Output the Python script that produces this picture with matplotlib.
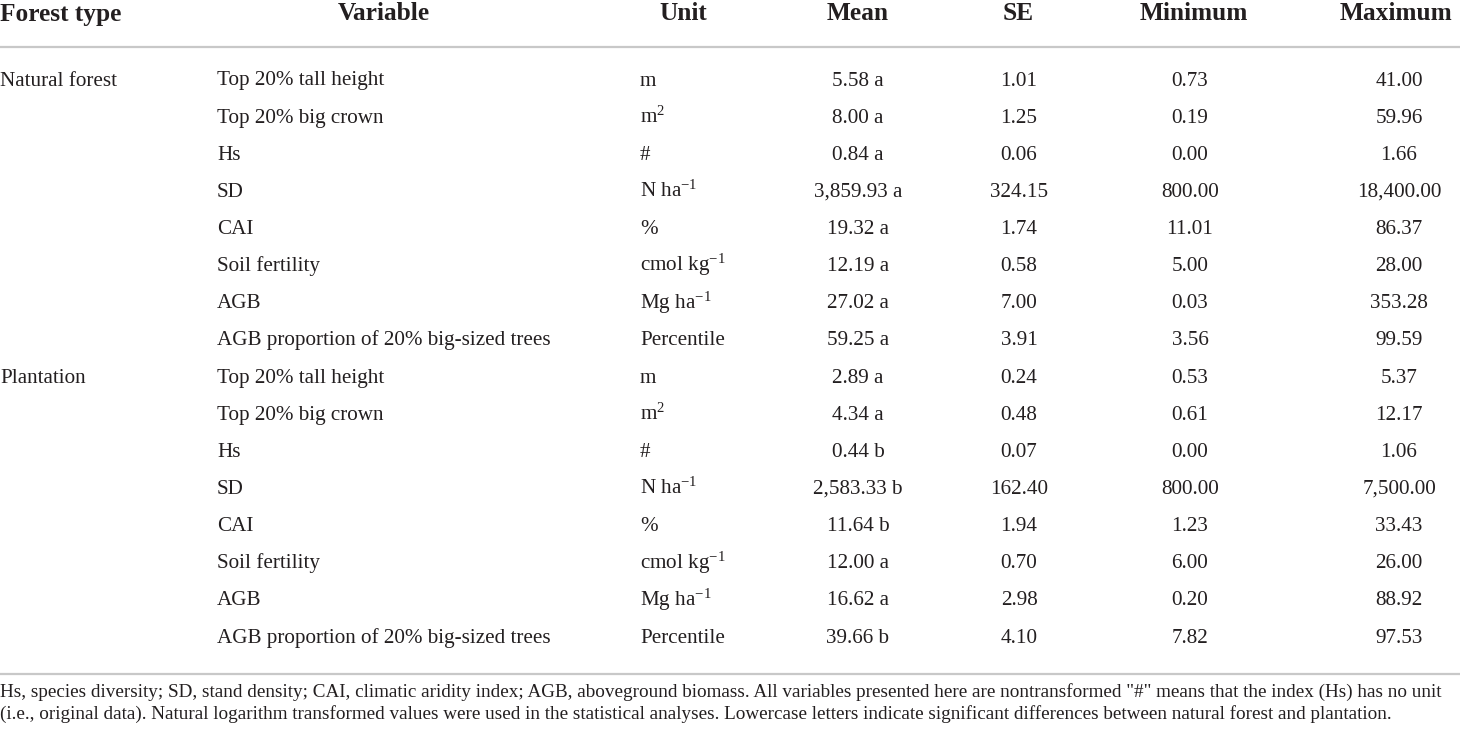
import matplotlib.pyplot as plt

plt.rcParams['font.family'] = ['Liberation Serif', 'DejaVu Serif']
plt.rcParams['mathtext.fontset'] = 'custom'
plt.rcParams['mathtext.rm'] = 'Liberation Serif'
plt.rcParams['mathtext.it'] = 'Liberation Serif:italic'

# table data
headers = ['Forest type', 'Variable', 'Unit', 'Mean', 'SE', 'Minimum', 'Maximum']
forest_types = ['Natural forest', 'Plantation']
variables = ['Top 20% tall height', 'Top 20% big crown', 'Hs', 'SD', 'CAI',
             'Soil fertility', 'AGB', 'AGB proportion of 20% big-sized trees']
units = ['m', 'm$^{2}$', '#', 'N ha$^{-1}$', '%', 'cmol kg$^{-1}$', 'Mg ha$^{-1}$', 'Percentile']

natural_mean = ['5.58 a', '8.00 a', '0.84 a', '3,859.93 a', '19.32 a', '12.19 a', '27.02 a', '59.25 a']
natural_se = ['1.01', '1.25', '0.06', '324.15', '1.74', '0.58', '7.00', '3.91']
natural_min = ['0.73', '0.19', '0.00', '800.00', '11.01', '5.00', '0.03', '3.56']
natural_max = ['41.00', '59.96', '1.66', '18,400.00', '86.37', '28.00', '353.28', '99.59']

plant_mean = ['2.89 a', '4.34 a', '0.44 b', '2,583.33 b', '11.64 b', '12.00 a', '16.62 a', '39.66 b']
plant_se = ['0.24', '0.48', '0.07', '162.40', '1.94', '0.70', '2.98', '4.10']
plant_min = ['0.53', '0.61', '0.00', '800.00', '1.23', '6.00', '0.20', '7.82']
plant_max = ['5.37', '12.17', '1.06', '7,500.00', '33.43', '26.00', '88.92', '97.53']

footnote = [
    'Hs, species diversity; SD, stand density; CAI, climatic aridity index; AGB, aboveground biomass. '
    'All variables presented here are nontransformed "#" means that the index (Hs) has no unit',
    '(i.e., original data). Natural logarithm transformed values were used in the statistical analyses. '
    'Lowercase letters indicate significant differences between natural forest and plantation.',
]

W, H = 1460, 733
fig = plt.figure(figsize=(W / 100, H / 100), dpi=100)
ax = fig.add_axes([0, 0, 1, 1])
ax.set_xlim(0, W)
ax.set_ylim(H, 0)
ax.axis('off')

txt = '#231f20'
body_fs = 15.2
head_fs = 18.3
line_col = '#c8c8c8'

# header
head_x = [0, 384, 683, 858, 1018, 1194, 1396]
head_ha = ['left', 'center', 'center', 'center', 'center', 'center', 'center']
for x, h, ha in zip(head_x, headers, head_ha):
    ax.text(x, 20.5, h, ha=ha, va='baseline', fontsize=head_fs, fontweight='bold', color=txt)
ax.plot([0, W], [46.5, 46.5], color=line_col, lw=1.6)

# body rows
base0, step = 85.5, 37.14
groups = [
    (natural_mean, natural_se, natural_min, natural_max),
    (plant_mean, plant_se, plant_min, plant_max),
]
num_x = [858, 1019, 1190, 1399]
for g, (ftype, cols) in enumerate(zip(forest_types, groups)):
    for i, var in enumerate(variables):
        y = base0 + step * (g * len(variables) + i)
        if i == 0:
            ax.text(0, y, ftype, ha='left', va='baseline', fontsize=body_fs, color=txt)
        ax.text(217, y, var, ha='left', va='baseline', fontsize=body_fs, color=txt)
        ax.text(640, y, units[i], ha='left', va='baseline', fontsize=body_fs, color=txt)
        for x, col in zip(num_x, cols):
            ax.text(x, y, col[i], ha='center', va='baseline', fontsize=body_fs, color=txt)

ax.plot([0, W], [673.5, 673.5], color=line_col, lw=1.6)

# footnote
for k, line in enumerate(footnote):
    ax.text(0, 697 + 21.5 * k, line, ha='left', va='baseline', fontsize=13.8, color=txt)

fig.savefig('out.png', dpi=100)
